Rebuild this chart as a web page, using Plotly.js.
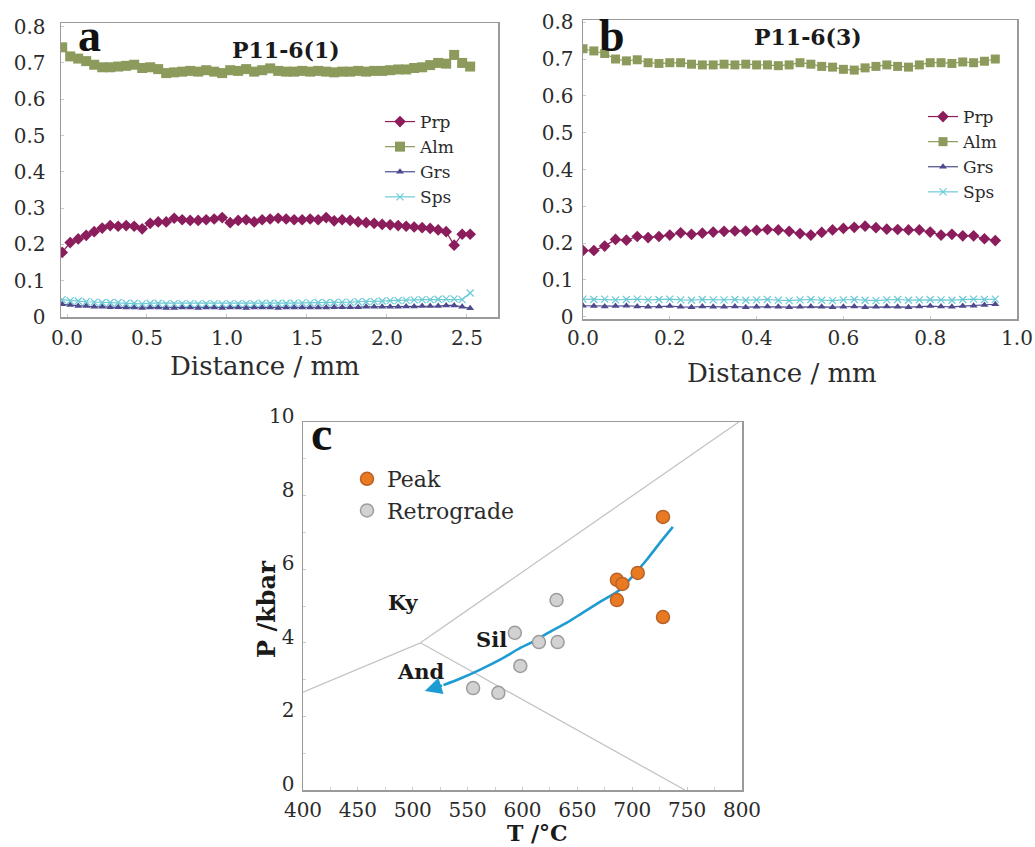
<!DOCTYPE html>
<html><head><meta charset="utf-8">
<script src="https://cdn.plot.ly/plotly-3.0.1.min.js"></script>
<style>html,body{margin:0;padding:0;background:#fff}#chart{width:1035px;height:847px}</style>
</head><body><div id="chart"></div>
<script>
// ---------- Panel a : P11-6(1) ----------
const distA = [-0.03,0.02,0.07,0.12,0.17,0.22,0.27,0.32,0.37,0.42,0.47,0.52,0.57,0.62,0.67,0.72,0.77,0.82,0.87,0.92,0.97,1.02,1.07,1.12,1.17,1.22,1.27,1.32,1.37,1.42,1.47,1.52,1.57,1.62,1.67,1.72,1.77,1.82,1.87,1.92,1.97,2.02,2.07,2.12,2.17,2.22,2.27,2.32,2.37,2.42,2.47,2.52];
const prpA = [0.178,0.205,0.215,0.225,0.235,0.245,0.252,0.250,0.252,0.250,0.243,0.258,0.262,0.262,0.272,0.268,0.266,0.266,0.268,0.270,0.274,0.260,0.266,0.268,0.262,0.268,0.270,0.272,0.270,0.268,0.268,0.270,0.268,0.274,0.265,0.268,0.266,0.262,0.260,0.258,0.255,0.254,0.252,0.250,0.248,0.246,0.244,0.240,0.235,0.198,0.228,0.228];
const almA = [0.743,0.718,0.712,0.705,0.695,0.688,0.688,0.690,0.692,0.695,0.686,0.688,0.683,0.672,0.674,0.676,0.678,0.676,0.680,0.676,0.672,0.680,0.678,0.683,0.676,0.680,0.685,0.678,0.676,0.676,0.678,0.676,0.678,0.676,0.674,0.676,0.676,0.678,0.676,0.678,0.678,0.680,0.682,0.682,0.686,0.688,0.694,0.700,0.698,0.722,0.700,0.690];
const grsA = [0.035,0.033,0.030,0.030,0.028,0.028,0.027,0.027,0.026,0.026,0.025,0.026,0.026,0.025,0.025,0.026,0.026,0.025,0.026,0.026,0.025,0.026,0.026,0.025,0.026,0.026,0.026,0.025,0.026,0.026,0.026,0.026,0.026,0.026,0.027,0.027,0.027,0.027,0.028,0.028,0.028,0.028,0.028,0.029,0.029,0.030,0.030,0.030,0.032,0.032,0.028,0.024];
const spsA = [0.048,0.045,0.044,0.042,0.041,0.040,0.040,0.040,0.038,0.038,0.036,0.038,0.038,0.036,0.037,0.037,0.037,0.036,0.037,0.037,0.036,0.037,0.037,0.037,0.037,0.038,0.038,0.038,0.038,0.038,0.039,0.039,0.040,0.040,0.040,0.041,0.041,0.042,0.042,0.043,0.044,0.045,0.045,0.046,0.047,0.048,0.048,0.049,0.050,0.050,0.048,0.066];

// ---------- Panel b : P11-6(3) ----------
const distB = [0,0.025,0.05,0.075,0.10,0.125,0.15,0.175,0.20,0.225,0.25,0.275,0.30,0.325,0.35,0.375,0.40,0.425,0.45,0.475,0.50,0.525,0.55,0.575,0.60,0.625,0.65,0.675,0.70,0.725,0.75,0.775,0.80,0.825,0.85,0.875,0.90,0.925,0.95];
const prpB = [0.180,0.180,0.192,0.210,0.208,0.218,0.215,0.218,0.222,0.228,0.224,0.227,0.230,0.232,0.233,0.233,0.235,0.237,0.236,0.232,0.226,0.222,0.229,0.236,0.240,0.243,0.246,0.242,0.238,0.237,0.236,0.236,0.230,0.222,0.224,0.220,0.220,0.212,0.207];
const almB = [0.728,0.722,0.715,0.700,0.695,0.698,0.690,0.688,0.690,0.690,0.686,0.684,0.684,0.686,0.684,0.686,0.684,0.684,0.682,0.684,0.690,0.686,0.680,0.678,0.672,0.670,0.676,0.680,0.684,0.680,0.678,0.684,0.690,0.690,0.688,0.692,0.690,0.694,0.700];
const grsB = [0.030,0.029,0.028,0.029,0.030,0.028,0.027,0.028,0.029,0.027,0.026,0.028,0.027,0.027,0.028,0.026,0.027,0.028,0.027,0.026,0.027,0.028,0.027,0.026,0.027,0.028,0.026,0.027,0.028,0.027,0.026,0.028,0.029,0.028,0.027,0.029,0.030,0.032,0.034];
const spsB = [0.048,0.047,0.048,0.046,0.047,0.048,0.046,0.047,0.048,0.046,0.045,0.047,0.046,0.046,0.047,0.045,0.046,0.047,0.045,0.044,0.046,0.047,0.045,0.044,0.046,0.047,0.045,0.044,0.046,0.047,0.045,0.046,0.047,0.046,0.045,0.047,0.048,0.047,0.048];

// ---------- Panel c : P-T ----------
const peakT = [728,686,691,705,686,728];
const peakP = [7.42,5.71,5.60,5.90,5.16,4.70];
const retroT = [631,593,615,632,598,555,578];
const retroP = [5.16,4.27,4.02,4.02,3.37,2.77,2.64];
const kyAndT = [400,507], kyAndP = [2.66,4.0];
const kySilT = [507,797], kySilP = [4.0,10];
const andSilT = [507,748], andSilP = [4.0,0];
const pathT = [737,725,713,700,689,671,655,640,625,610,598,580,562,545,528];
const pathP = [7.15,6.71,6.25,5.80,5.45,5.12,4.82,4.54,4.30,4.04,3.86,3.55,3.28,3.05,2.85];
const arrowTip = [511,2.69];

const W = 1035, H = 847;
const px = x => x / W, py = y => 1 - y / H;
const serif = "DejaVu Serif";
const txt = "#2b2b2b";
const cPrp = "#8b1d5c", cAlm = "#8c9b5c", cGrs = "#4d4b8e", cSps = "#6ccad6";

function series(x, y, name, color, symbol, size, xa, ya, lg) {
  return {type:'scatter', mode:'lines+markers', x, y, name, xaxis:xa, yaxis:ya, legend:lg,
    line:{color, width:1.2}, marker:{color, symbol, size, line:{color, width:symbol.indexOf('x')===0?1.2:0}}};
}

const traces = [
  series(distA, prpA, 'Prp', cPrp, 'diamond', 9, 'x', 'y', 'legend'),
  series(distA, almA, 'Alm', cAlm, 'square', 10, 'x', 'y', 'legend'),
  series(distA, grsA, 'Grs', cGrs, 'triangle-up', 7, 'x', 'y', 'legend'),
  series(distA, spsA, 'Sps', cSps, 'x-thin-open', 7, 'x', 'y', 'legend'),
  series(distB, prpB, 'Prp', cPrp, 'diamond', 9, 'x2', 'y2', 'legend2'),
  series(distB, almB, 'Alm', cAlm, 'square', 9, 'x2', 'y2', 'legend2'),
  series(distB, grsB, 'Grs', cGrs, 'triangle-up', 7, 'x2', 'y2', 'legend2'),
  series(distB, spsB, 'Sps', cSps, 'x-thin-open', 7, 'x2', 'y2', 'legend2'),
  {type:'scatter', mode:'lines', x:kyAndT, y:kyAndP, xaxis:'x3', yaxis:'y3', showlegend:false, line:{color:'#c4c4c4', width:1.3}},
  {type:'scatter', mode:'lines', x:kySilT, y:kySilP, xaxis:'x3', yaxis:'y3', showlegend:false, line:{color:'#c4c4c4', width:1.3}},
  {type:'scatter', mode:'lines', x:andSilT, y:andSilP, xaxis:'x3', yaxis:'y3', showlegend:false, line:{color:'#c4c4c4', width:1.3}},
  {type:'scatter', mode:'lines', x:pathT, y:pathP, xaxis:'x3', yaxis:'y3', showlegend:false, line:{color:'#1f9bd3', width:2.6, shape:'spline'}},
  {type:'scatter', mode:'markers', x:peakT, y:peakP, name:'Peak', xaxis:'x3', yaxis:'y3', legend:'legend3',
    marker:{color:'#ea7a22', size:13, line:{color:'#b8622a', width:1.5}}},
  {type:'scatter', mode:'markers', x:retroT, y:retroP, name:'Retrograde', xaxis:'x3', yaxis:'y3', legend:'legend3',
    marker:{color:'#d2d2d2', size:13, line:{color:'#9c9c9c', width:1.5}}}
];

function ax(extra) {
  return Object.assign({showline:true, mirror:true, linecolor:'#9a9a9a', linewidth:1.5, showgrid:false, zeroline:false,
    ticks:'inside', ticklen:3, tickcolor:'#c8c8c8', tickfont:{family:serif, size:20, color:txt}}, extra);
}

function label(text, x, y, size, opts) {
  return Object.assign({text, xref:'paper', yref:'paper', x:px(x), y:py(y), xanchor:'center', yanchor:'middle',
    showarrow:false, font:{family:serif, size, color:'#1a1a1a'}}, opts || {});
}

const layout = {
  width:W, height:H, margin:{l:0, r:0, t:0, b:0}, paper_bgcolor:'#fff', plot_bgcolor:'#fff',
  xaxis: ax({domain:[px(61), px(498)], range:[-0.0375, 2.694], tickvals:[0,0.5,1,1.5,2,2.5], tickformat:'.1f', anchor:'y', ticklabelstandoff:2}),
  yaxis: ax({domain:[py(317), py(23)], range:[0, 0.81], tick0:0, dtick:0.1, anchor:'x', ticklabelstandoff:10}),
  xaxis2: ax({domain:[px(583), px(1017)], range:[0, 1], dtick:0.2, tickformat:'.1f', anchor:'y2', ticklabelstandoff:0}),
  yaxis2: ax({domain:[py(319), py(20)], range:[-0.006, 0.806], tick0:0, dtick:0.1, anchor:'x2', ticklabelstandoff:4}),
  xaxis3: ax({domain:[px(303), px(742)], range:[400, 800], dtick:50, anchor:'y3', tickfont:{family:serif, size:20, color:txt}, ticklabelstandoff:1,
    minor:{dtick:25, ticks:'inside', ticklen:3, tickcolor:'#d0d0d0'}}),
  yaxis3: ax({domain:[py(790), py(422)], range:[0, 10], dtick:2, anchor:'x3', tickfont:{family:serif, size:20, color:txt}, ticklabelstandoff:3, ticklabelshift:-6,
    minor:{dtick:1, ticks:'inside', ticklen:3, tickcolor:'#d0d0d0'}}),
  legend: {x:px(380), y:py(104), xanchor:'left', yanchor:'top', bgcolor:'rgba(0,0,0,0)', font:{family:serif, size:17, color:txt}, tracegroupgap:0},
  legend2: {x:px(923), y:py(99), xanchor:'left', yanchor:'top', bgcolor:'rgba(0,0,0,0)', font:{family:serif, size:17, color:txt}, tracegroupgap:0},
  legend3: {x:px(347), y:py(458), xanchor:'left', yanchor:'top', bgcolor:'rgba(0,0,0,0)', font:{family:serif, size:22, color:txt}, tracegroupgap:0},
  annotations: [
    label('<b>a</b>', 89, 36, 46, {font:{family:'Liberation Serif', size:46, color:'#111'}}),
    label('<b>b</b>', 612, 36, 46, {font:{family:'Liberation Serif', size:46, color:'#111'}}),
    label('<b>c</b>', 321, 434, 48, {font:{family:'Liberation Serif', size:48, color:'#111'}}),
    label('<b>P11-6(1)</b>', 286, 50, 22),
    label('<b>P11-6(3)</b>', 808, 37, 22),
    label('Distance / mm', 265, 366, 26, {font:{family:serif, size:26, color:txt}}),
    label('Distance / mm', 782, 373, 26, {font:{family:serif, size:26, color:txt}}),
    label('<b>T /°C</b>', 537, 847, 22, {yanchor:'bottom', borderpad:0}),
    label('<b>P /kbar</b>', 266, 610, 24, {textangle:-90}),
    label('<b>Ky</b>', 403, 602, 21),
    label('<b>Sil</b>', 491, 639, 21),
    label('<b>And</b>', 421, 671, 21),
    {xref:'x3', yref:'y3', axref:'x3', ayref:'y3', x:arrowTip[0], y:arrowTip[1], ax:pathT[pathT.length-1], ay:pathP[pathP.length-1],
      text:'', showarrow:true, arrowhead:2, arrowsize:1.3, arrowwidth:2.6, arrowcolor:'#1f9bd3'}
  ]
};

Plotly.newPlot('chart', traces, layout, {displayModeBar:false, staticPlot:true});
</script>
</body></html>
